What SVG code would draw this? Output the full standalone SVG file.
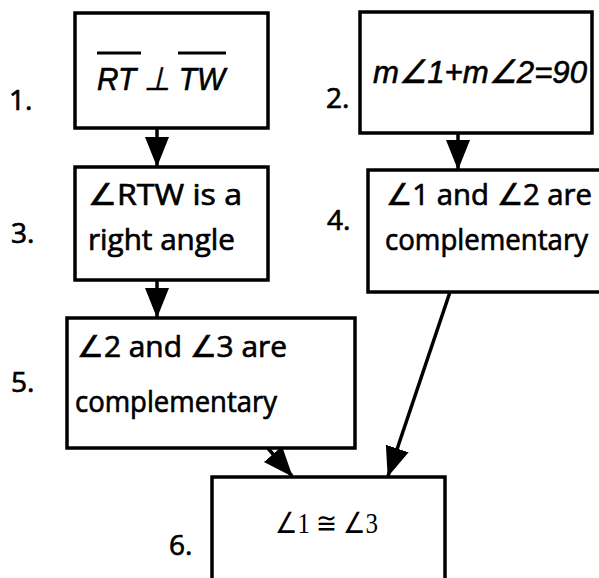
<svg xmlns="http://www.w3.org/2000/svg" width="599" height="578" viewBox="0 0 599 578">
  <style>
    .box { fill: #fff; stroke: #000; stroke-width: 3.5; }
    .txt { font-family: "Open Sans", "Liberation Sans", sans-serif; font-size: 30px; fill: #000; stroke: #000; stroke-width: 0.7; }
    .math { font-family: "Liberation Sans", sans-serif; font-style: italic; font-size: 32px; fill: #000; stroke: #000; stroke-width: 0.6; }
    .serif { font-family: "Liberation Serif", serif; font-size: 29px; fill: #000; }
    .num { font-family: "Open Sans", "Liberation Sans", sans-serif; font-size: 28px; fill: #000; stroke: #000; stroke-width: 0.7; }
    .bar { stroke: #000; stroke-width: 3; }
    .conn { stroke: #000; stroke-width: 3.5; fill: none; marker-end: url(#head); }
  </style>
  <defs>
    <marker id="head" markerUnits="userSpaceOnUse" markerWidth="30" markerHeight="26" refX="29" refY="13" orient="auto">
      <path d="M0,1 L30,13 L0,25 z" fill="#000"/>
    </marker>
  </defs>

  <rect width="599" height="578" fill="#fff"/>

  <!-- connectors -->
  <g id="connectors">
    <line class="conn" x1="157" y1="128" x2="157" y2="166"/>
    <line class="conn" x1="157" y1="280" x2="157" y2="317"/>
    <line class="conn" x1="458" y1="133" x2="458" y2="169"/>
    <line class="conn" x1="266" y1="446" x2="292" y2="476"/>
    <line class="conn" x1="450" y1="292" x2="388" y2="476"/>
  </g>

  <!-- step 1 -->
  <g id="step1">
    <rect class="box" x="75" y="13" width="193" height="115"/>
    <text class="num" x="9" y="110">1.</text>
    <text class="math" x="97" y="90" textLength="128" lengthAdjust="spacingAndGlyphs">RT ⊥ TW</text>
    <line class="bar" x1="97" y1="53" x2="141" y2="53"/>
    <line class="bar" x1="178" y1="53" x2="226" y2="53"/>
  </g>

  <!-- step 2 -->
  <g id="step2">
    <rect class="box" x="360" y="12" width="232" height="121"/>
    <text class="num" x="326" y="108">2.</text>
    <text class="math" x="373" y="83" textLength="214" lengthAdjust="spacingAndGlyphs">m∠1+m∠2=90</text>
  </g>

  <!-- step 3 -->
  <g id="step3">
    <rect class="box" x="75" y="167" width="193" height="113"/>
    <text class="num" x="11" y="243">3.</text>
    <text class="txt" x="88" y="205" textLength="154" lengthAdjust="spacingAndGlyphs">∠RTW is a</text>
    <text class="txt" x="88" y="250" textLength="147" lengthAdjust="spacingAndGlyphs">right angle</text>
  </g>

  <!-- step 4 (box runs past the right edge) -->
  <g id="step4">
    <rect class="box" x="368" y="170" width="235" height="122"/>
    <text class="num" x="327" y="230">4.</text>
    <text class="txt" x="386" y="205" textLength="206" lengthAdjust="spacingAndGlyphs">∠1 and ∠2 are</text>
    <text class="txt" x="385" y="250" textLength="203" lengthAdjust="spacingAndGlyphs">complementary</text>
  </g>

  <!-- step 5 -->
  <g id="step5">
    <rect class="box" x="67" y="318" width="288" height="130"/>
    <text class="num" x="11" y="392">5.</text>
    <text class="txt" x="77" y="357" textLength="210" lengthAdjust="spacingAndGlyphs">∠2 and ∠3 are</text>
    <text class="txt" x="75" y="412" textLength="202" lengthAdjust="spacingAndGlyphs">complementary</text>
  </g>

  <!-- step 6 (box runs past the bottom edge) -->
  <g id="step6">
    <rect class="box" x="212" y="477" width="233" height="120"/>
    <text class="num" x="169" y="555">6.</text>
    <text class="serif" x="275" y="533" textLength="103" lengthAdjust="spacingAndGlyphs">∠1 ≅ ∠3</text>
  </g>
</svg>
